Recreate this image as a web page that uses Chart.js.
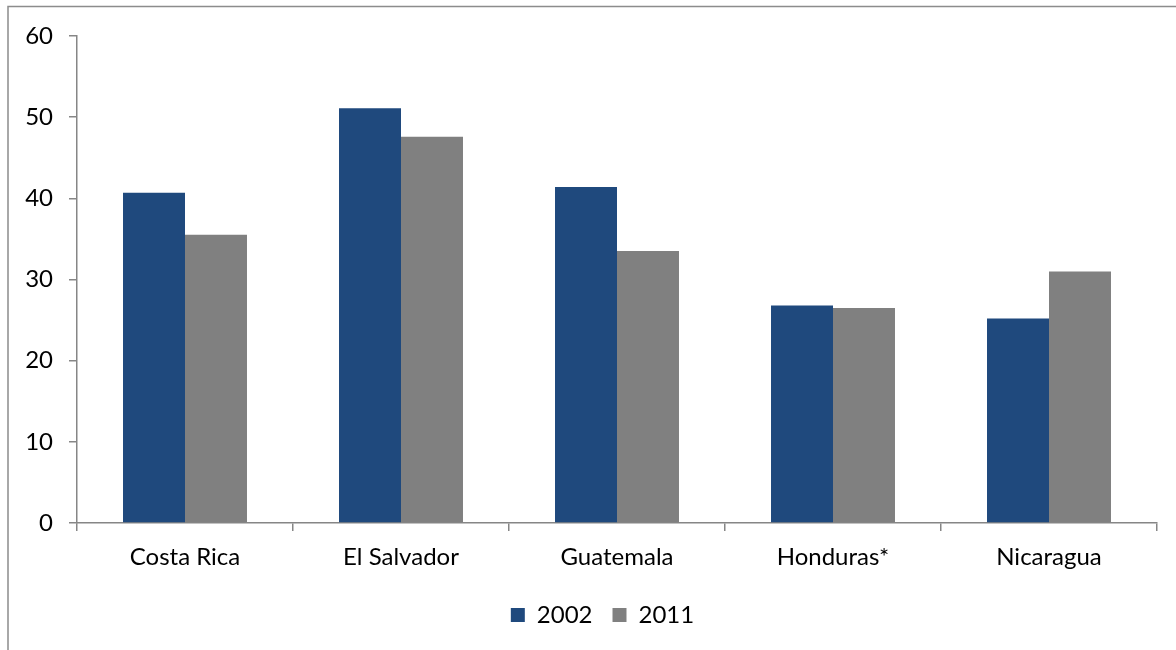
<!DOCTYPE html>
<html>
<head>
<meta charset="utf-8">
<script src="https://cdn.jsdelivr.net/npm/chart.js@4.4.1/dist/chart.umd.min.js"></script>
<style>
  html, body { margin: 0; padding: 0; background: #fff; }
  #wrap { width: 1176px; height: 650px; position: relative; }
</style>
</head>
<body>
<div id="wrap"><canvas id="barChart"></canvas></div>
<script>
// ========== Data ==========
const countries = ["Costa Rica", "El Salvador", "Guatemala", "Honduras*", "Nicaragua"];
const values2002 = [40.7, 51.1, 41.4, 26.8, 25.2];
const values2011 = [35.5, 47.6, 33.5, 26.5, 31.0];
const yTicks = [0, 10, 20, 30, 40, 50, 60];

const AXIS_GRAY = "#868686";
const FONT = "Lato, 'Noto Sans', sans-serif";

// gray frame around the whole figure (only top and left edges fall inside the canvas)
const framePlugin = {
  id: "frame",
  beforeDraw(chart) {
    const { ctx, width, height } = chart;
    ctx.save();
    ctx.strokeStyle = "#8c8c8c";
    ctx.lineWidth = 1.5;
    ctx.strokeRect(8, 6.5, width + 20, height + 20);
    ctx.restore();
  },
};

// nudge the legend right so it sits under the middle of the plot
const legendShift = {
  id: "legendShift",
  afterLayout(chart) {
    const lg = chart.legend;
    if (!lg) return;
    lg.left += 24;
    lg.right += 24;
  },
};

Chart.defaults.font.family = FONT;
Chart.defaults.color = "#000";

new Chart(document.getElementById("barChart"), {
  type: "bar",
  data: {
    labels: countries,
    datasets: [
      { label: "2002", data: values2002, backgroundColor: "#1F497D", categoryPercentage: 0.574, barPercentage: 1 },
      { label: "2011", data: values2011, backgroundColor: "#808080", categoryPercentage: 0.574, barPercentage: 1 },
    ],
  },
  options: {
    responsive: true,
    maintainAspectRatio: false,
    animation: false,
    layout: { padding: { top: 36, right: 19, left: 0, bottom: 13 } },
    plugins: {
      tooltip: { enabled: false },
      legend: {
        position: "bottom",
        labels: { boxWidth: 14, boxHeight: 14, padding: 20, font: { size: 24 } },
      },
    },
    scales: {
      x: {
        grid: { drawOnChartArea: false, drawTicks: true, tickLength: 8, color: AXIS_GRAY, lineWidth: 1.5 },
        border: { display: true, color: AXIS_GRAY, width: 1.5 },
        ticks: { font: { size: 24 }, padding: 12, maxRotation: 0 },
        afterFit: (s) => { s.height = 60; },
      },
      y: {
        min: 0,
        max: 60,
        afterBuildTicks: (s) => { s.ticks = yTicks.map((v) => ({ value: v })); },
        grid: { drawOnChartArea: false, drawTicks: true, tickLength: 8, color: AXIS_GRAY, lineWidth: 1.5 },
        border: { display: true, color: AXIS_GRAY, width: 1.5 },
        ticks: { font: { size: 24 }, padding: 16 },
        afterFit: (s) => { s.width = 77; },
      },
    },
  },
  plugins: [framePlugin, legendShift],
});
</script>
</body>
</html>
